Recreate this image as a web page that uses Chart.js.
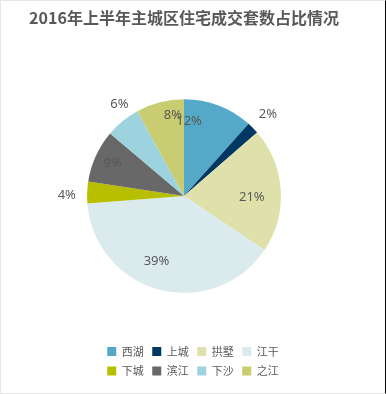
<!DOCTYPE html>
<html><head><meta charset="utf-8">
<script src="https://cdn.jsdelivr.net/npm/chart.js@4/dist/chart.umd.min.js"></script>
<style>
html,body{margin:0;padding:0;background:#fff;}
#wrap{position:relative;width:386px;height:394px;}
#c{position:absolute;left:0;top:0;}
#frame{position:absolute;left:0;top:0;width:386px;height:394px;box-sizing:border-box;border:1px solid #e6e6e6;border-right:1px solid #000;pointer-events:none;}
</style></head><body>
<div id="wrap"><canvas id="c" width="386" height="394"></canvas><div id="frame"></div></div>
<script>
const chartTitle = '2016年上半年主城区住宅成交套数占比情况';
const categories = ['西湖','上城','拱墅','江干','下城','滨江','下沙','之江'];
const shares = [11.6, 2.0, 20.8, 39.4, 3.6, 8.8, 5.8, 8.0];
const colors = ['#55a9c8','#003863','#dfe1aa','#dbebed','#b8bf00','#686868','#9dd3df','#c9cc70'];
// label placement (style): radius factor and angular shift in degrees
const labelRadius = [0.775, 1.21, 0.70, 0.733, 1.21, 0.81, 1.16, 0.84];
const labelShift = [-17, 0.3, 5, 8, -1.7, 0.3, 4.2, 6.5];

const total = shares.reduce((a,b)=>a+b,0);

const pctLabels = {
  id:'pctLabels',
  afterDatasetsDraw(chart){
    const meta = chart.getDatasetMeta(0);
    const ctx = chart.ctx;
    ctx.save();
    ctx.font = '13px "Noto Sans", sans-serif';
    ctx.fillStyle = '#595959';
    ctx.textAlign = 'center';
    ctx.textBaseline = 'middle';
    meta.data.forEach((arc,i)=>{
      const p = arc.getProps(['x','y','startAngle','endAngle','outerRadius'], true);
      const a = (p.startAngle+p.endAngle)/2 + labelShift[i]*Math.PI/180;
      const r = p.outerRadius*labelRadius[i];
      ctx.fillText(Math.round(shares[i]/total*100)+'%', p.x+Math.cos(a)*r, p.y+Math.sin(a)*r);
    });
    ctx.restore();
  }
};

// legend: 4 items per row, centred slightly right of the pie like the reference
const legendFit = {
  id:'legendFit',
  beforeLayout(chart){
    const lg = chart.legend;
    if (lg && !lg._patched){
      const orig = lg.update.bind(lg);
      lg.update = (w,h,m)=>orig(Math.min(w,200),h,m);
      lg._patched = true;
    }
  },
  afterLayout(chart){
    const lg = chart.legend;
    if (lg){ lg.left = 76; lg.right = 310; lg.width = 234; }
  }
};

new Chart(document.getElementById('c'), {
  type:'pie',
  data:{
    labels: categories,
    datasets:[{ data: shares, backgroundColor: colors, borderWidth: 0 }]
  },
  options:{
    responsive:false,
    animation:false,
    layout:{ padding:{ top:0, right:18, bottom:7.5, left:0 } },
    plugins:{
      title:{
        display:true, text: chartTitle, color:'#595959',
        font:{ family:'"Noto Sans CJK SC", sans-serif', size:16, weight:'bold' },
        padding:{ top:8, bottom:72 }
      },
      legend:{
        position:'bottom',
        title:{ display:true, text:'', font:{size:12}, padding:{top:30.1, bottom:0} },
        labels:{
          boxWidth:9, boxHeight:9, padding:8.5, color:'#595959',
          font:{ family:'"Noto Sans CJK SC", sans-serif', size:11 }
        }
      },
      tooltip:{ enabled:false }
    }
  },
  plugins:[pctLabels, legendFit]
});
</script>
</body></html>
